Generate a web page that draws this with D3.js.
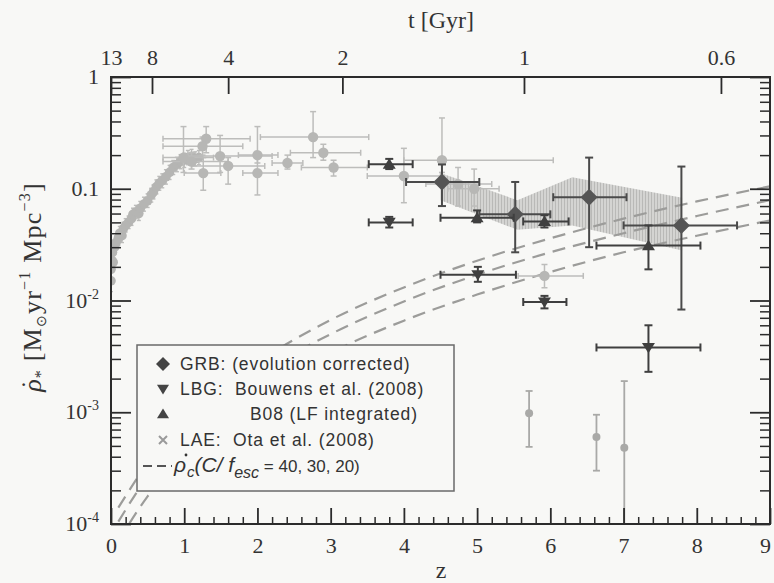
<!DOCTYPE html>
<html>
<head>
<meta charset="utf-8">
<script src="https://cdn.jsdelivr.net/npm/d3@7"></script>
<style>
  body { margin: 0; background: #f8f8f6; }
  text { white-space: pre; }
</style>
</head>
<body>
<svg width="774" height="583"></svg>
<script>
// ---- data ----
// compilation at low z: [z, rate, rateLo, rateHi]
const lowZPoints = [
  [0.00,0.015,0.012,0.018],[0.00,0.019,0.016,0.023],[0.01,0.023,0.019,0.027],
  [0.02,0.027,0.023,0.031],[0.03,0.022,0.019,0.026],[0.05,0.030,0.026,0.035],
  [0.07,0.033,0.029,0.038],[0.10,0.036,0.031,0.041],[0.12,0.040,0.035,0.046],
  [0.15,0.038,0.033,0.044],[0.17,0.044,0.038,0.050],[0.20,0.047,0.041,0.054],
  [0.24,0.050,0.044,0.057],[0.28,0.054,0.047,0.062],[0.30,0.059,0.051,0.067],
  [0.34,0.062,0.054,0.071],[0.38,0.060,0.052,0.069],[0.40,0.067,0.058,0.077],
  [0.45,0.073,0.063,0.084],[0.50,0.078,0.068,0.090],[0.55,0.088,0.076,0.101],
  [0.58,0.094,0.081,0.108],[0.62,0.104,0.090,0.120],[0.66,0.112,0.097,0.129],
  [0.70,0.118,0.102,0.136],[0.75,0.128,0.110,0.148],[0.80,0.140,0.121,0.162],
  [0.85,0.155,0.134,0.179],[0.90,0.165,0.142,0.191],[0.95,0.175,0.151,0.202],
  [1.00,0.180,0.155,0.208],[1.05,0.190,0.164,0.220],[1.10,0.195,0.168,0.225],
  [1.15,0.185,0.160,0.214],[1.20,0.190,0.164,0.220]
];
// compilation with wide bins: [z, rate, zLo, zHi, rateLo, rateHi]
const widePoints = [
  [1.30,0.280,0.71,1.90,0.210,0.360],[1.25,0.240,0.71,1.80,0.200,0.290],
  [0.99,0.190,0.71,1.40,0.140,0.360],[1.10,0.175,0.71,1.60,0.150,0.210],
  [1.26,0.138,1.00,1.50,0.097,0.190],[1.49,0.196,1.05,2.20,0.140,0.300],
  [1.60,0.160,1.10,2.10,0.110,0.190],[2.00,0.200,1.74,2.28,0.170,0.360],
  [2.00,0.138,1.80,2.28,0.088,0.190],[2.41,0.170,2.20,2.62,0.150,0.200],
  [2.76,0.290,2.04,3.52,0.190,0.490],[2.90,0.210,2.45,3.41,0.180,0.250],
  [3.04,0.155,2.60,3.50,0.130,0.180],[4.00,0.130,3.50,4.50,0.075,0.230],
  [4.52,0.180,4.00,6.04,0.140,0.430],[4.74,0.110,4.30,5.20,0.070,0.155],
  [4.96,0.100,4.60,5.30,0.070,0.150],[5.92,0.0166,5.56,6.45,0.013,0.021]
];
const grbPoints = [
  [4.52,0.115,4.03,5.03,0.070,0.165],
  [5.52,0.059,5.03,6.00,0.027,0.115],
  [6.53,0.084,6.04,7.04,0.030,0.190],
  [7.79,0.047,7.00,8.55,0.0083,0.158]
];
const lbgPoints = [
  [3.80,0.050,3.52,4.12,0.045,0.056],
  [5.01,0.017,4.50,5.53,0.0147,0.020],
  [5.92,0.0097,5.63,6.22,0.0085,0.011],
  [7.34,0.0038,6.63,8.05,0.0023,0.0060]
];
const b08Points = [
  [3.80,0.166,3.52,4.12,0.150,0.185],
  [5.00,0.055,4.50,5.50,0.050,0.064],
  [5.92,0.051,5.63,6.25,0.045,0.058],
  [7.34,0.031,6.63,8.05,0.019,0.047]
];
const laePoints = [
  [5.71,0.00098,5.71,5.71,0.00049,0.00155],
  [6.63,0.00060,6.63,6.63,0.00030,0.00095],
  [7.01,0.00048,7.01,7.01,0.00001,0.0019]
];
const bandZ  = [4.5, 5.55, 6.3, 7.8];
const bandHi = [0.138, 0.079, 0.127, 0.083];
const bandLo = [0.079, 0.043, 0.047, 0.028];
// critical rate, C/f_esc = 40, 30, 20
const rhoZ  = [0.1, 0.5, 1, 1.5, 2, 3, 4, 5, 6, 7, 8, 9];
const rho40 = [1.40e-4,3.5e-4,8.4e-4,1.64e-3,2.8e-3,6.7e-3,0.0131,0.0227,0.036,0.054,0.077,0.105];
const rho30 = [1.05e-4,2.66e-4,6.3e-4,1.23e-3,2.13e-3,5.0e-3,0.0098,0.017,0.027,0.040,0.057,0.079];
const rho20 = [7.0e-5,1.77e-4,4.2e-4,8.2e-4,1.42e-3,3.4e-3,0.0066,0.0113,0.018,0.027,0.038,0.052];
// axes
const zMajor = [0,1,2,3,4,5,6,7,8,9];
const tLabels = ["13","8","4","2","1","0.6"];
const tAtZ = [0, 0.56, 1.6, 3.16, 5.64, 8.33];
const yDecades = [1e-4,1e-3,1e-2,0.1,1];
const yLabels = [["10","-4"],["10","-3"],["10","-2"],["0.1",""],["1",""]];

// ---- layout ----
const m = {left: 111, right: 770, top: 77, bottom: 524};
const svg = d3.select("svg");
const x = d3.scaleLinear().domain([0, 9]).range([m.left, m.right]);
const y = d3.scaleLog().domain([1e-4, 1]).range([m.bottom, m.top]);

const serif = "'Liberation Serif','Times New Roman',serif";
const sans = "'Liberation Sans',Arial,sans-serif";
const frame = "#2b2b2b";

svg.append("defs").append("clipPath").attr("id", "plot")
  .append("rect").attr("x", m.left).attr("y", m.top)
  .attr("width", m.right - m.left).attr("height", m.bottom - m.top);

const hatch = svg.select("defs").append("pattern").attr("id", "hatch")
  .attr("patternUnits", "userSpaceOnUse").attr("width", 3).attr("height", 6);
hatch.append("rect").attr("width", 3).attr("height", 6).attr("fill", "#d0d0ce");
hatch.append("line").attr("x1", 0.5).attr("x2", 0.5).attr("y1", 0).attr("y2", 6)
  .attr("stroke", "#b2b2b0").attr("stroke-width", 1);

const plot = svg.append("g").attr("clip-path", "url(#plot)");

// shaded GRB band
plot.append("path")
  .datum(bandZ.map((z, i) => ({z, lo: bandLo[i], hi: bandHi[i]})))
  .attr("fill", "url(#hatch)").attr("opacity", 0.9)
  .attr("d", d3.area().x(d => x(d.z)).y0(d => y(d.lo)).y1(d => y(d.hi)));

// dashed critical lines
const line = d3.line().x(d => x(d[0])).y(d => y(d[1])).curve(d3.curveMonotoneX);
[rho40, rho30, rho20].forEach(r => {
  plot.append("path").datum(rhoZ.map((z, i) => [z, r[i]]))
    .attr("fill", "none").attr("stroke", "#9c9c9a").attr("stroke-width", 2.2)
    .attr("stroke-dasharray", "13,8").attr("d", line);
});

function markerPath(type, r) {
  if (type === "diamond") return `M0,${-r}L${r},0L0,${r}L${-r},0Z`;
  if (type === "down") return `M${-r},${-r * 0.7}L${r},${-r * 0.7}L0,${r * 0.9}Z`;
  if (type === "up") return `M${-r},${r * 0.7}L${r},${r * 0.7}L0,${-r * 0.9}Z`;
  if (type === "x") return `M${-r},${-r}L${r},${r}M${-r},${r}L${r},${-r}`;
  return d3.symbol(d3.symbolCircle, r * r * Math.PI)();
}

function drawSeries(data, o) {
  const g = plot.append("g");
  const cap = o.cap;
  data.forEach(d => {
    const [z, v, z0, z1, v0, v1] = d;
    const eg = g.append("g").attr("stroke", o.err).attr("stroke-width", o.ew).attr("fill", "none");
    if (z1 > z0) {
      eg.append("line").attr("x1", x(z0)).attr("x2", x(z1)).attr("y1", y(v)).attr("y2", y(v));
      eg.append("line").attr("x1", x(z0)).attr("x2", x(z0)).attr("y1", y(v) - cap).attr("y2", y(v) + cap);
      eg.append("line").attr("x1", x(z1)).attr("x2", x(z1)).attr("y1", y(v) - cap).attr("y2", y(v) + cap);
    }
    eg.append("line").attr("x1", x(z)).attr("x2", x(z)).attr("y1", y(v0)).attr("y2", y(v1));
    eg.append("line").attr("x1", x(z) - cap).attr("x2", x(z) + cap).attr("y1", y(v0)).attr("y2", y(v0));
    eg.append("line").attr("x1", x(z) - cap).attr("x2", x(z) + cap).attr("y1", y(v1)).attr("y2", y(v1));
  });
  g.selectAll("path.mk").data(data).join("path").attr("class", "mk")
    .attr("transform", d => `translate(${x(d[0])},${y(d[1])})`)
    .attr("d", markerPath(o.type, o.r))
    .attr("fill", o.type === "x" ? "none" : o.fill)
    .attr("stroke", o.type === "x" ? o.fill : "none")
    .attr("stroke-width", o.type === "x" ? 3 : 0);
}

// low-z compilation
drawSeries(lowZPoints.map(d => [d[0], d[1], d[0], d[0], d[2], d[3]]),
  {type: "circle", r: 4.8, fill: "#b5b5b3", err: "#bcbcba", ew: 1.4, cap: 2});
drawSeries(widePoints, {type: "circle", r: 5.2, fill: "#b7b7b5", err: "#bdbdbb", ew: 1.5, cap: 3});
drawSeries(laePoints, {type: "circle", r: 4, fill: "#a9a9a7", err: "#a9a9a7", ew: 1.8, cap: 3.5});
drawSeries(grbPoints, {type: "diamond", r: 8.5, fill: "#555", err: "#4a4a4a", ew: 2, cap: 4});
drawSeries(lbgPoints, {type: "down", r: 6.5, fill: "#3f3f3f", err: "#3f3f3f", ew: 2, cap: 4});
drawSeries(b08Points, {type: "up", r: 6.5, fill: "#3f3f3f", err: "#3f3f3f", ew: 2, cap: 4});

// ---- axes ----
function styleAxis(g, w) {
  g.select(".domain").remove();
  g.selectAll(".tick line").attr("stroke", frame).attr("stroke-width", w);
}
const zMinor = d3.range(0, 45).map(i => i * 0.2).filter(v => Math.abs(v - Math.round(v)) > 1e-6);
const yMinor = [];
yDecades.slice(0, 4).forEach(d => d3.range(2, 10).forEach(k => yMinor.push(d * k)));

svg.append("g").attr("transform", `translate(0,${m.bottom})`)
  .call(d3.axisBottom(x).tickValues(zMajor).tickSize(-16).tickPadding(13).tickFormat(d3.format("d")))
  .call(g => styleAxis(g, 1.8))
  .call(g => g.selectAll("text").attr("font-family", serif).attr("font-size", 22).attr("fill", "#333")
    .attr("dx", d => d === 9 ? -5 : 0));
svg.append("g").attr("transform", `translate(0,${m.bottom})`)
  .call(d3.axisBottom(x).tickValues(zMinor).tickSize(-7).tickFormat(""))
  .call(g => styleAxis(g, 1.5));

svg.append("g").attr("transform", `translate(0,${m.top})`)
  .call(d3.axisTop(x).tickValues(tAtZ).tickSize(-17).tickPadding(12).tickFormat((d, i) => tLabels[i]))
  .call(g => styleAxis(g, 1.8))
  .call(g => g.selectAll("text").attr("font-family", serif).attr("font-size", 22).attr("fill", "#333"));

[[d3.axisLeft, m.left], [d3.axisRight, m.right]].forEach(([ax, pos]) => {
  svg.append("g").attr("transform", `translate(${pos},0)`)
    .call(ax(y).tickValues(yDecades).tickSize(-20).tickFormat(""))
    .call(g => styleAxis(g, 1.8));
  svg.append("g").attr("transform", `translate(${pos},0)`)
    .call(ax(y).tickValues(yMinor).tickSize(-10).tickFormat(""))
    .call(g => styleAxis(g, 1.5));
});

svg.append("rect").attr("x", m.left).attr("y", m.top)
  .attr("width", m.right - m.left).attr("height", m.bottom - m.top)
  .attr("fill", "none").attr("stroke", frame).attr("stroke-width", 2);

// y tick labels with superscripts
const yl = svg.append("g").attr("font-family", serif).attr("font-size", 22).attr("fill", "#333")
  .selectAll("text").data(yDecades).join("text")
  .attr("x", 99).attr("y", d => y(d) + 7).attr("text-anchor", "end");
yl.append("tspan").text((d, i) => yLabels[i][0]);
yl.append("tspan").attr("dy", -9).attr("font-size", 14).text((d, i) => yLabels[i][1]);

// axis titles
svg.append("text").attr("x", 441).attr("y", 28).attr("text-anchor", "middle")
  .attr("font-family", serif).attr("font-size", 24).attr("fill", "#333").text("t [Gyr]");
svg.append("text").attr("x", 441).attr("y", 578).attr("text-anchor", "middle")
  .attr("font-family", serif).attr("font-size", 24).attr("fill", "#333").text("z");

const yt = svg.append("text").attr("transform", "translate(41,287) rotate(-90)")
  .attr("text-anchor", "middle").attr("font-family", serif).attr("font-size", 26)
  .attr("fill", "#333").attr("letter-spacing", 1.2);
yt.append("tspan").attr("font-style", "italic").text("\u03c1");
yt.append("tspan").attr("dx", -11).attr("dy", -2).text("\u02d9");
yt.append("tspan").attr("dx", 1).attr("dy", 7).attr("font-size", 16).text("*");
yt.append("tspan").attr("dy", -5).text(" [M");
yt.append("tspan").attr("dy", 5).attr("font-size", 14).text("\u2299");
yt.append("tspan").attr("dy", -5).text("yr");
yt.append("tspan").attr("dy", -11).attr("font-size", 16).text("\u22121");
yt.append("tspan").attr("dy", 11).text(" Mpc");
yt.append("tspan").attr("dy", -11).attr("font-size", 16).text("\u22123");
yt.append("tspan").attr("dy", 11).text("]");

// ---- legend ----
const lg = svg.append("g");
lg.append("rect").attr("x", 137).attr("y", 345).attr("width", 317).attr("height", 146)
  .attr("fill", "#f8f8f6").attr("stroke", "#6a6a6a").attr("stroke-width", 1.5);
const legendItems = [
  {type: "diamond", r: 7, fill: "#444", label: "GRB: (evolution corrected)", tx: 180, cy: 364},
  {type: "down", r: 6, fill: "#444", label: "LBG:  Bouwens et al. (2008)", tx: 180, cy: 389},
  {type: "up", r: 6, fill: "#444", label: "B08 (LF integrated)", tx: 250, cy: 414},
  {type: "x", r: 4, fill: "#9a9a9a", label: "LAE:  Ota et al. (2008)", tx: 180, cy: 440}
];
legendItems.forEach(it => {
  lg.append("path").attr("transform", `translate(163,${it.cy})`).attr("d", markerPath(it.type, it.r))
    .attr("fill", it.type === "x" ? "none" : it.fill)
    .attr("stroke", it.type === "x" ? it.fill : "none").attr("stroke-width", 2);
  lg.append("text").attr("x", it.tx).attr("y", it.cy + 6).attr("font-family", sans)
    .attr("font-size", 17.5).attr("letter-spacing", 0.9).attr("fill", "#333").text(it.label);
});
lg.append("line").attr("x1", 143).attr("x2", 172).attr("y1", 466).attr("y2", 466)
  .attr("stroke", "#555").attr("stroke-width", 1.8).attr("stroke-dasharray", "9,5");
const rt = lg.append("text").attr("x", 174).attr("y", 472).attr("font-family", sans)
  .attr("fill", "#333").attr("font-size", 21);
rt.append("tspan").attr("font-style", "italic").text("\u03c1");
rt.append("tspan").attr("dx", 1).attr("dy", 5).attr("font-size", 15).attr("font-style", "italic").text("c");
rt.append("tspan").attr("dy", -5).attr("font-style", "italic").text("(C/ f");
rt.append("tspan").attr("dy", 6).attr("font-size", 16).attr("font-style", "italic").text("esc");
rt.append("tspan").attr("dy", -6).attr("font-size", 17).text(" = 40, 30, 20)");
// dot over rho
lg.append("circle").attr("cx", 186).attr("cy", 455).attr("r", 1.4).attr("fill", "#333");
</script>
</body>
</html>
